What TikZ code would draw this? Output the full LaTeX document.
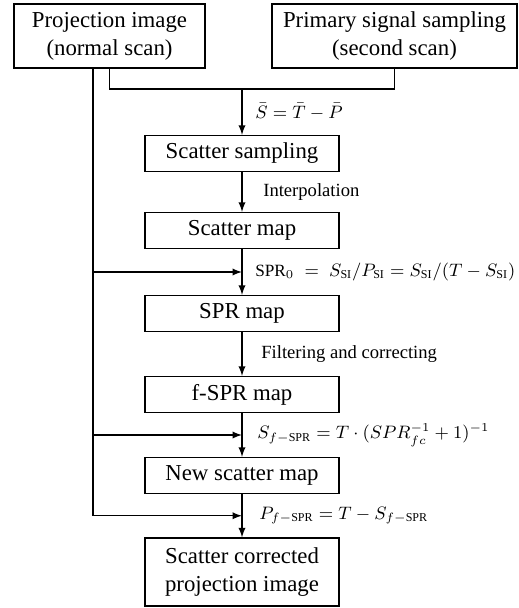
\documentclass[tikz,border=0pt]{standalone}
\usepackage{fontspec}
\setmainfont{Liberation Serif}
\usetikzlibrary{positioning}

\begin{document}
\begin{tikzpicture}[x=0.5pt, y=-0.5pt, node distance=40.5pt, >=latex, line width=0.65pt,
    every node/.style={font=\fontsize{11.4}{14}\selectfont},
    box/.style={rectangle, draw, align=center, inner sep=0pt, minimum width=97pt, minimum height=18pt},
    note/.style={anchor=west, font=\fontsize{9.3}{11}\selectfont},
    eqn/.style={anchor=west, font=\fontsize{8.6}{10}\selectfont}]

    \useasboundingbox (0,0) rectangle (518,608);

    % Two input boxes
    \node (proj) [box, minimum width=95.5pt, minimum height=32pt] at (109.5,36) {Projection image\\(normal scan)};
    \node (prim) [box, minimum width=122.5pt, minimum height=32pt] at (394.5,36) {Primary signal sampling\\(second scan)};

    % Main column
    \node (scsamp) [box] at (242,153.5) {Scatter sampling};
    \node (scmap) [box, below of=scsamp, yshift=2pt] {Scatter map};
    \node (sprmap) [box, below of=scmap, yshift=-1pt] {SPR map};
    \node (fspr) [box, below of=sprmap] {f-SPR map};
    \node (newsc) [box, below of=fspr] {New scatter map};
    \node (corr) [box, minimum height=34pt, below of=newsc, yshift=-7.75pt] {Scatter corrected\\projection image};

    % Joining the two scans
    \coordinate (join) at (242,89);
    \draw (proj.south) |- (join) -| (prim.south);
    \draw[->] (join) -- node[eqn, xshift=3pt] {$\bar{S} = \bar{T} - \bar{P}$} (scsamp);

    % Steps down the column
    \draw[->] (scsamp) -- node[note, xshift=7pt] {Interpolation} (scmap);
    \draw[->] (scmap) -- coordinate[pos=0.5] (m1)
        node[eqn, xshift=3pt] {$\mathrm{SPR}_0 \;=\; S_{\mathrm{SI}}/P_{\mathrm{SI}} = S_{\mathrm{SI}}/(T - S_{\mathrm{SI}})$} (sprmap);
    \draw[->] (sprmap) -- node[note, xshift=6pt] {Filtering and correcting} (fspr);
    \draw[->] (fspr) -- coordinate[pos=0.5] (m2)
        node[eqn, xshift=4pt] {$S_{f-\mathrm{SPR}} = T \cdot (SPR_{fc}^{-1} + 1)^{-1}$} (newsc);
    \draw[->] (newsc) -- coordinate[pos=0.5] (m3)
        node[eqn, xshift=5pt] {$P_{f-\mathrm{SPR}} = T - S_{f-\mathrm{SPR}}$} (corr);

    % Bypass from the normal scan
    \coordinate (bus) at ([xshift=-8.25pt]proj.south);
    \draw[->] (bus) |- (m3);
    \draw[->] (m1 -| bus) -- (m1);
    \draw[->] (m2 -| bus) -- (m2);

\end{tikzpicture}
\end{document}
